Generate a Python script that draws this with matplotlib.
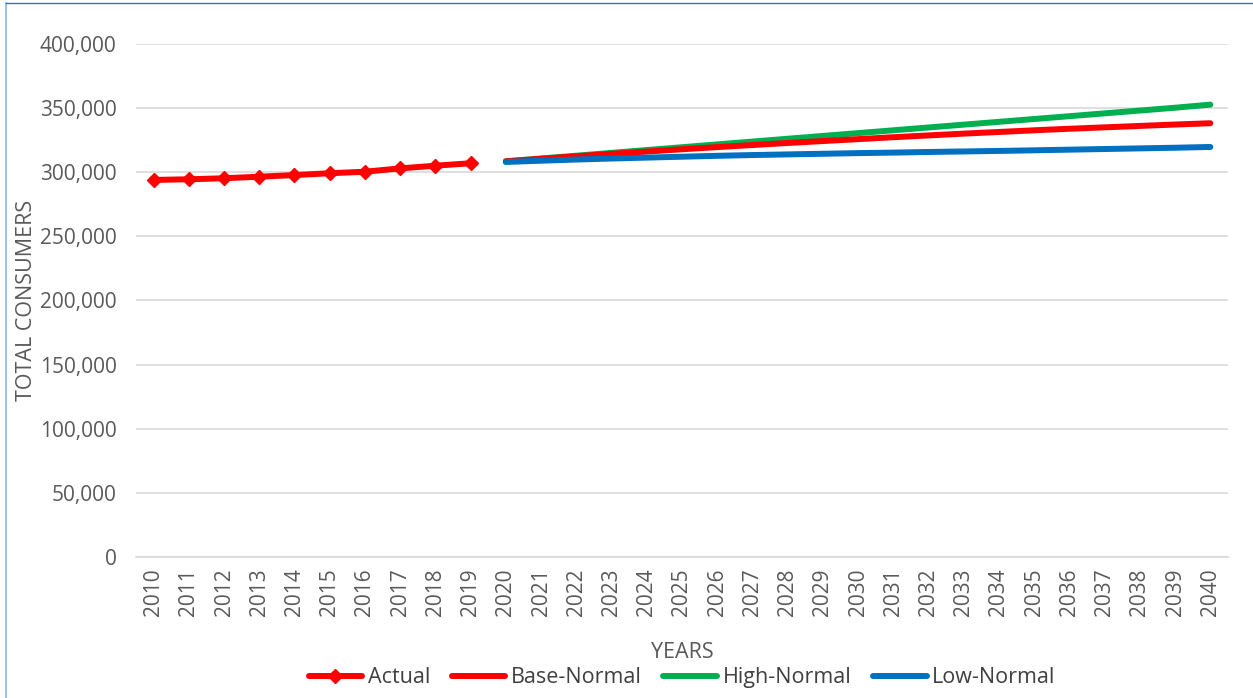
import matplotlib.pyplot as plt
from matplotlib.lines import Line2D
from matplotlib.ticker import FuncFormatter

# data
years = list(range(2010, 2041))
actual_years = list(range(2010, 2020))
actual = [294000, 294500, 295300, 296500, 297800, 299200, 300400, 303000, 305100, 307000]

fc_years = list(range(2020, 2041))
base_normal = [308500, 310500, 312400, 314300, 316100, 317900, 319600, 321200, 322800, 324300, 325800,
               327300, 328700, 330100, 331400, 332700, 333900, 335000, 336100, 337200, 338200]
high_normal = [308500, 310700, 312900, 315100, 317300, 319500, 321700, 323900, 326100, 328300, 330500,
               332700, 334900, 337100, 339300, 341500, 343700, 345900, 348100, 350300, 352700]
low_normal = [308000, 309000, 309900, 310700, 311400, 312100, 312800, 313400, 313900, 314400, 314900,
              315300, 315800, 316200, 316600, 317100, 317600, 318100, 318600, 319100, 319700]

plt.rcParams['font.family'] = ['Open Sans', 'DejaVu Sans']

fig = plt.figure(figsize=(12.53, 6.98), dpi=100)
ax = fig.add_axes([0.1085, 0.202, 0.8715, 0.735])

ax.plot(actual_years, actual, color='#FF0000', lw=4.3, marker='D', markersize=7.5,
        solid_capstyle='round', label='Actual', zorder=5)
ax.plot(fc_years, base_normal, color='#FF0000', lw=4.3, solid_capstyle='round', label='Base-Normal', zorder=3)
ax.plot(fc_years, high_normal, color='#00B050', lw=4.3, solid_capstyle='round', label='High-Normal', zorder=2)
ax.plot(fc_years, low_normal, color='#0070C0', lw=4.3, solid_capstyle='round', label='Low-Normal', zorder=4)

ax.set_xlim(2009.5, 2040.5)
ax.set_ylim(0, 400000)
ax.set_yticks(range(0, 400001, 50000))
ax.yaxis.set_major_formatter(FuncFormatter(lambda v, p: f'{int(v):,}'))
ax.set_xticks(years)
ax.set_xticklabels([str(y) for y in years], rotation=90)

ax.grid(axis='y', color='#D9D9D9', lw=1.2)
ax.set_axisbelow(True)
for s in ['top', 'right', 'left']:
    ax.spines[s].set_visible(False)
ax.spines['bottom'].set_color('#D9D9D9')
ax.spines['bottom'].set_linewidth(1.2)
ax.tick_params(axis='both', length=0, labelsize=15, labelcolor='#595959')
ax.tick_params(axis='y', pad=14)
ax.tick_params(axis='x', pad=8)

ax.set_ylabel('TOTAL CONSUMERS', fontsize=15.5, color='#595959')
ax.yaxis.set_label_coords(-0.091, 0.5)
ax.set_xlabel('YEARS', fontsize=15.5, color='#595959')
ax.xaxis.set_label_coords(0.5, -0.165)

leg = ax.legend(loc='center', bbox_to_anchor=(0.5, -0.235), ncol=4, frameon=False,
                fontsize=15.5, handlelength=2.5, handletextpad=0.25, columnspacing=1.0)
for t in leg.get_texts():
    t.set_color('#404040')

# chart border
fig.add_artist(Line2D([0.005, 0.005], [0, 0.996], transform=fig.transFigure, color='#9DC3E6', lw=1.5))
fig.add_artist(Line2D([0.005, 1], [0.996, 0.996], transform=fig.transFigure, color='#2E75B6', lw=1.0))

fig.savefig('out.png', dpi=100)
